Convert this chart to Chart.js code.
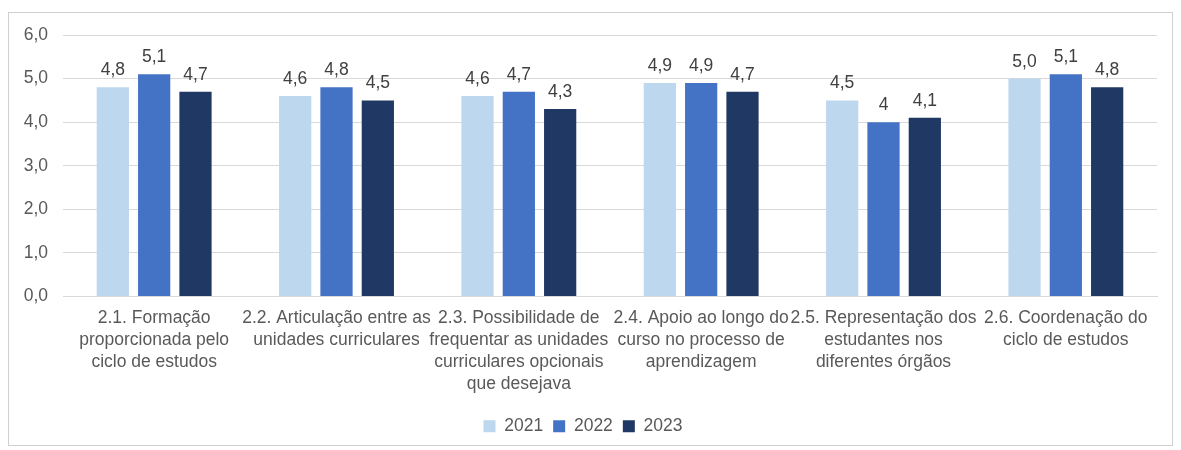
<!DOCTYPE html>
<html>
<head>
<meta charset="utf-8">
<script src="https://cdn.jsdelivr.net/npm/chart.js@4"></script>
<style>
  body { margin: 0; background: #fff; }
  #wrap {
    position: absolute; left: 8px; top: 12px;
    width: 1163px; height: 432px;
    border: 1px solid #d0d0d0;
  }
</style>
</head>
<body>
<div id="wrap"><canvas id="chart"></canvas></div>
<script>
const categories = [
    ['2.1. Formação', 'proporcionada pelo', 'ciclo de estudos'],
    ['2.2. Articulação entre as', 'unidades curriculares'],
    ['2.3. Possibilidade de', 'frequentar as unidades', 'curriculares opcionais', 'que desejava'],
    ['2.4. Apoio ao longo do', 'curso no processo de', 'aprendizagem'],
    ['2.5. Representação dos', 'estudantes nos', 'diferentes órgãos'],
    ['2.6. Coordenação do', 'ciclo de estudos']
];
const years = ['2021', '2022', '2023'];
const values2021 = [4.8, 4.6, 4.6, 4.9, 4.5, 5.0];
const values2022 = [5.1, 4.8, 4.7, 4.9, 4.0, 5.1];
const values2023 = [4.7, 4.5, 4.3, 4.7, 4.1, 4.8];
// one label in the source is printed without decimals
const plainLabels = [[1, 4]];
const yTicks = [0, 1, 2, 3, 4, 5, 6];

const colors = ['#BDD7EE', '#4472C4', '#203864'];
const textColor = '#595959';
const font = 'Liberation Sans, Arial, Helvetica, sans-serif';
const fontSize = 17.5;

Chart.defaults.font.family = font;
Chart.defaults.font.size = fontSize;
Chart.defaults.color = textColor;

function fmt(v, ds, i) {
    if (plainLabels.some(p => p[0] === ds && p[1] === i)) return String(v);
    return v.toFixed(1).replace('.', ',');
}

// value labels above each bar
const barLabels = {
    id: 'barLabels',
    afterDatasetsDraw(chart) {
        const ctx = chart.ctx;
        ctx.save();
        ctx.font = fontSize + 'px ' + font;
        ctx.fillStyle = '#404040';
        ctx.textAlign = 'center';
        ctx.textBaseline = 'bottom';
        chart.data.datasets.forEach((ds, di) => {
            chart.getDatasetMeta(di).data.forEach((bar, i) => {
                ctx.fillText(fmt(ds.data[i], di, i), bar.x, bar.y - 8);
            });
        });
        ctx.restore();
    }
};

const ctx = document.getElementById('chart').getContext('2d');
new Chart(ctx, {
    type: 'bar',
    data: {
        labels: categories,
        datasets: [values2021, values2022, values2023].map((d, i) => ({
            label: years[i],
            data: d,
            backgroundColor: colors[i],
            categoryPercentage: 0.68,
            barPercentage: 0.78
        }))
    },
    options: {
        responsive: true,
        maintainAspectRatio: false,
        animation: false,
        layout: { padding: { top: 22, right: 15, left: 0, bottom: 0 } },
        scales: {
            y: {
                min: 0,
                max: 6,
                afterBuildTicks(scale) { scale.ticks = yTicks.map(v => ({ value: v })); },
                afterFit(scale) { scale.width = 54; scale.paddingTop = 0; },
                ticks: {
                    padding: 15,
                    font: { lineHeight: 1 },
                    callback: v => v.toFixed(1).replace('.', ',')
                },
                grid: { color: '#d9d9d9', drawTicks: false },
                border: { display: false }
            },
            x: {
                afterFit(scale) { scale.height = 111; },
                ticks: { autoSkip: false, maxRotation: 0, minRotation: 0, padding: 3, font: { lineHeight: 1.25 } },
                grid: { display: false },
                border: { color: '#d9d9d9' }
            }
        },
        plugins: {
            legend: {
                position: 'bottom',
                labels: { boxWidth: 12, boxHeight: 12, padding: 10 }
            },
            tooltip: { enabled: false }
        }
    },
    plugins: [barLabels]
});
</script>
</body>
</html>
